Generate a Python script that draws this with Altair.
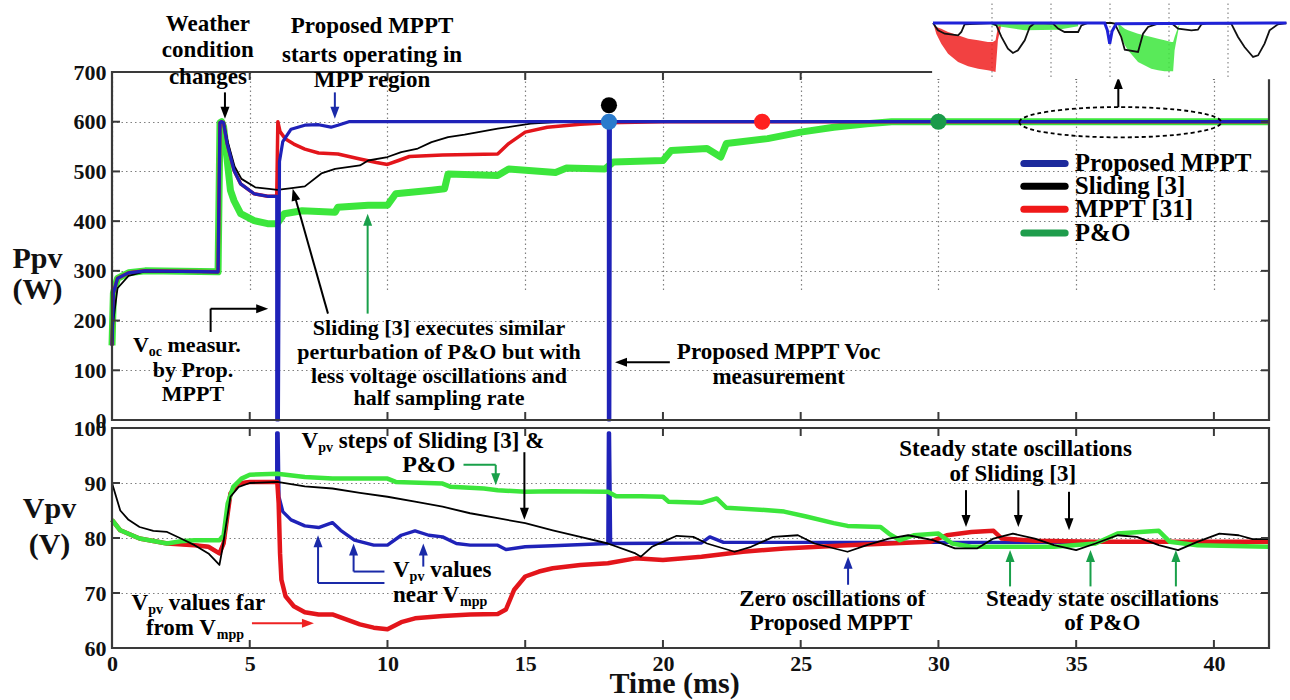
import math
import altair as alt
import pandas as pd

FONT = "Liberation Serif"
PLOT_W, PLOT_H = 1157, 576          # both panels together
TOP_PX = 348                        # height of the Ppv panel
BOT_TOP_PX = 356                    # where the Vpv panel starts
X_MAX = 42.0
PXX = PLOT_W / X_MAX
PXW = TOP_PX / 700.0
PXV = (PLOT_H - BOT_TOP_PX) / 40.0

BLUE, RED, GREEN, BLACK = "#1f22b8", "#e3151b", "#3ce63c", "#000000"
LEG_BLUE, LEG_GREEN = "#1d2a9c", "#1f9d4c"
A_GREEN, A_BLUE, A_RED = "#19a04a", "#1a2aa8", "#ee2222"

# ---------------- Ppv (W) ----------------
blue_p_t = [0, 0.05, 0.2, 0.6, 1.2, 3.85, 3.92, 3.98, 4.05, 4.18, 4.43, 4.67, 5.16, 5.65, 5.98, 5.98, 6.04,
            6.08, 6.2, 6.5, 7.0, 7.5, 7.95, 8.2, 8.6, 18.02, 18.02, 18.07, 18.09, 42]
blue_p_v = [150, 255, 285, 296, 300, 298, 598, 600, 598, 556, 502, 475, 455, 450, 450, 0, 0,
            520, 560, 585, 593, 594, 589, 593, 600, 600, 0, 0, 600, 600]

black_p_t = [0, 0.05, 0.2, 0.6, 1.2, 3.85, 3.92, 3.98, 4.05, 4.2, 4.45, 4.7, 5.2, 5.7, 6.0, 6.45, 7.0, 7.6,
             8.1, 9.0, 9.3, 10.0, 10.5, 11.1, 11.6, 12.2, 12.8, 14.0, 15.2, 16.4, 42]
black_p_v = [150, 200, 265, 290, 299, 297, 598, 600, 598, 560, 510, 485, 468, 465, 463, 466, 470, 496,
             505, 512, 522, 529, 539, 546, 559, 569, 574, 586, 596, 600, 600]

red_p_t = [0, 0.05, 0.2, 0.6, 1.2, 3.85, 3.92, 3.98, 4.05, 4.18, 4.43, 4.67, 5.16, 5.65, 5.98, 6.02, 6.1,
           6.3, 6.6, 7.0, 7.5, 8.2, 9.0, 9.6, 10.0, 10.4, 10.8, 12.0, 14.0, 14.4, 15.0, 15.8, 17.0, 18.0,
           20.0, 42]
red_p_v = [150, 255, 285, 296, 300, 298, 598, 600, 598, 556, 502, 475, 455, 450, 450, 600, 580,
           565, 555, 545, 537, 535, 525, 518, 514, 522, 530, 533, 535, 556, 579, 589, 595, 598,
           600, 600]

green_p_t = [0, 0.05, 0.2, 0.6, 1.2, 3.85, 3.92, 3.98, 4.05, 4.3, 4.43, 4.67, 5.16, 5.65, 6.0, 6.25, 6.9,
             8.1, 8.2, 9.3, 10.0, 10.3, 11.6, 12.07, 12.2, 14.0, 14.4, 16.1, 16.5, 17.9, 18.2, 20.0,
             20.3, 21.6, 22.1, 22.3, 23.8, 25.0, 26.2, 27.4, 28.3, 42]
green_p_v = [150, 255, 285, 296, 300, 298, 598, 600, 590, 462, 441, 415, 401, 395, 395, 415, 421,
             418, 428, 432, 432, 455, 462, 465, 495, 492, 505, 498, 507, 505, 519, 522,
             542, 546, 529, 556, 566, 579, 589, 596, 600, 600]

# ---------------- Vpv (V) ----------------
red_v_t = [0, 0.3, 1, 2, 3, 3.5, 3.9, 4.05, 4.3, 4.6, 5, 6, 6.05, 6.1, 6.15, 6.3, 6.6, 7, 7.5, 8, 8.5, 9,
           9.5, 10, 10.5, 11, 12, 13, 14, 14.3, 14.6, 15, 15.5, 16, 17, 18, 19, 20, 21.4, 22.9, 24.4,
           26.7, 29.7, 30.3, 31.2, 32, 32.3, 33.5, 35.7, 42]
red_v_v = [83.3, 81.4, 79.9, 79.0, 78.7, 78.4, 77.2, 79.0, 88.1, 89.9, 90.2, 90.2, 86.3, 77.2, 72.4, 69.4,
           67.6, 66.5, 66.1, 66.1, 65.2, 64.3, 63.7, 63.4, 64.7, 65.4, 65.8, 66.1, 66.2, 67.0, 70.6, 73.0,
           73.9, 74.5, 75.1, 75.4, 76.3, 76.0, 76.6, 77.5, 78.1, 78.7, 79.3, 80.5, 81.1, 81.3, 79.9,
           79.5, 79.3, 79.3]

blue_v_t = [0, 0.3, 1, 2, 3, 3.5, 3.9, 4.05, 4.3, 4.6, 5, 5.98, 5.98, 6.03, 6.06, 6.2, 6.5, 7, 7.5, 8, 8.3,
            8.8, 9.5, 10, 10.5, 11, 11.5, 12, 12.5, 13, 14, 14.3, 15, 16, 18.0, 18.02, 18.06, 18.1, 21.4,
            21.7, 22.2, 42]
blue_v_v = [83.3, 81.4, 79.9, 79.0, 78.7, 78.4, 77.2, 79.0, 88.1, 89.9, 90.2, 90.2, 99.1, 99.1, 87.5,
            84.8, 83.3, 82.2, 81.9, 82.8, 81.4, 79.6, 78.7, 78.7, 80.5, 81.3, 80.5, 80.2, 79.0, 78.7,
            78.7, 77.9, 78.4, 78.6, 79.0, 99.1, 99.1, 79.0, 79.1, 80.2, 79.2, 79.2]

green_v_t = [0, 0.3, 1, 2, 2.5, 3, 3.9, 4.05, 4.2, 4.4, 4.7, 5, 6, 7, 8, 10, 10.3, 12, 12.3, 13.5, 14, 15,
             16, 18, 18.3, 19.2, 20, 20.2, 21.4, 21.95, 22.3, 23.7, 24.4, 25.2, 26.2, 26.7, 27.9, 28.2,
             28.6, 29.1, 30, 30.5, 31.2, 34.2, 35.7, 36.5, 38, 38.4, 39.4, 42]
green_v_v = [83.3, 81.4, 79.9, 79.0, 79.4, 79.6, 79.6, 80.5, 86.3, 89.3, 90.8, 91.5, 91.7, 91.1, 90.8,
             90.8, 90.2, 89.9, 89.3, 89.0, 88.7, 88.4, 88.5, 88.4, 87.6, 87.6, 87.5, 86.6, 86.4, 87.2,
             85.5, 85.1, 84.8, 83.9, 82.7, 82.2, 82.0, 80.8, 79.6, 80.5, 80.8, 79.0, 78.4, 78.4, 79.0,
             80.8, 81.3, 79.3, 78.7, 78.4]

black_v_t = [0, 0.3, 0.6, 1, 1.5, 2, 2.5, 3, 3.5, 3.9, 4.0, 4.3, 4.6, 5, 6, 7, 8, 9, 10, 11, 12, 13, 14,
             15, 16, 17, 18, 19, 19.2, 19.6, 20, 20.5, 21.1, 21.6, 22.6, 23.2, 24, 24.9, 25.5, 26.7,
             27.4, 28.2, 28.9, 29.8, 30.6, 31.4, 32, 32.7, 33.5, 34.2, 35, 35.7, 36.5, 37.2, 38, 38.7,
             39.4, 40.2, 40.9, 41.4, 42]
black_v_v = [90, 85, 83.3, 82, 81.3, 81.1, 79.9, 78.7, 77.2, 75.1, 77.8, 87.5, 89.3, 90, 90.2, 89.4, 89,
             88.2, 87.5, 86.6, 85.7, 84.5, 83.6, 82.7, 81.4, 80.2, 79.0, 77.2, 76.6, 78.4, 79.3, 80.4,
             80.2, 79.0, 77.5, 78.4, 80.2, 80.5, 79.0, 77.5, 78.7, 79.9, 80.5, 79.6, 78.1, 78.1, 79.9,
             80.8, 79.9, 78.7, 77.8, 79.0, 80.5, 80.2, 78.7, 77.8, 79.3, 80.8, 80.5, 79.8, 79.8]

# ---------------- inset (zoom of the steady state, W) ----------------
in_black_t = [30.0, 30.17, 30.40, 30.85, 30.96, 31.07, 31.98, 32.15, 32.32, 32.54, 32.71, 32.88, 33.11,
              33.28, 33.45, 34.07, 34.24, 34.46, 34.92, 35.03, 35.25, 36.05, 36.16, 36.38, 36.50, 36.95,
              37.12, 37.29, 37.63, 38.08, 38.31, 38.76, 38.98, 39.10, 39.32, 40.11, 40.34, 40.56, 40.85,
              41.02, 41.24, 41.41, 41.69, 41.98]
in_black_v = [600.0, 599.1, 598.69, 598.49, 598.9, 599.84, 600.0, 599.71, 598.29, 596.86, 596.33, 596.65,
              597.88, 599.51, 600.0, 599.92, 599.31, 598.9, 598.9, 599.71, 600.0, 600.0, 599.92, 598.29,
              596.74, 596.45, 598.69, 599.51, 599.92, 600.0, 599.31, 599.1, 599.18, 599.84, 600.0,
              599.92, 598.29, 597.06, 595.84, 596.04, 597.47, 599.1, 599.84, 600.0]
in_red_t = [30.03, 30.11, 30.28, 30.51, 30.85, 31.19, 31.53, 31.86, 32.03, 32.12, 32.2, 32.3]
in_red_hi = [599.92, 599.51, 599.31, 598.9, 598.49, 598.08, 597.88, 597.67, 597.67, 597.9, 599.5, 599.92]
in_red_lo = [599.71, 598.69, 597.47, 596.25, 595.23, 594.69, 594.41, 594.2, 594.08, 594.0, 597.9, 599.51]
in_green_t = [36.27, 36.33, 36.5, 36.61, 36.95, 37.4, 37.63, 37.85, 38.08, 38.14, 38.19, 38.31, 38.36]
in_green_hi = [599.92, 599.8, 599.31, 599.1, 598.69, 598.3, 598.08, 597.9, 597.67, 597.67, 598.3, 599.51, 599.92]
in_green_lo = [599.9, 598.69, 597.3, 596.65, 595.23, 594.41, 594.2, 594.08, 594.08, 594.08, 596.65, 599.0, 599.92]
in_green2_t = [31.98, 33.11, 34.24, 34.92]
in_green2_hi = [600.0, 599.84, 599.84, 599.92]
in_green2_lo = [599.71, 599.1, 599.18, 599.59]
in_blue_t = [30.0, 35.82, 35.91, 35.99, 36.07, 36.21, 41.98]
in_blue_v = [600.0, 600.0, 599.1, 597.47, 598.98, 599.92, 600.0]
in_grid_t = [32, 34, 36, 38, 40]

# markers on the Ppv panel
dot_t = [18.04, 18.04, 23.6, 30.0]
dot_v = [633, 600, 600, 600]
dot_c = ["#000000", "#2b7bcc", "#ff2020", "#1a9a4a"]

# legend
leg_names = ["Proposed MPPT", "Sliding [3]", "MPPT [31]", "P&O"]
leg_colors = [LEG_BLUE, BLACK, "#f01818", LEG_GREEN]
leg_v = [516, 470, 424, 376]

x_ticks = [0, 5, 10, 15, 20, 25, 30, 35, 40]
p_ticks = [0, 100, 200, 300, 400, 500, 600, 700]
v_ticks = [60, 70, 80, 90, 100]

# ---------------- scales / axes ----------------
XS = alt.Scale(domain=[0, X_MAX], nice=False, zero=False)
YS_TOP = alt.Scale(domain=[0, 700], range=[TOP_PX, 0], nice=False, zero=False)
YS_BOT = alt.Scale(domain=[60, 100], range=[PLOT_H, BOT_TOP_PX], nice=False, zero=False)
XS_IN = alt.Scale(domain=[30, 42], range=[821, 1175], nice=False, zero=False)
YS_IN = alt.Scale(domain=[594, 600], range=[0, -49], nice=False, zero=False)

common_axis = dict(grid=True, gridDash=[1.5, 3], gridColor="#808080", gridWidth=1.2, ticks=False, tickSize=0,
                   domain=False, labelFont=FONT, labelFontWeight="bold", labelFontSize=22, labelColor="#111",
                   labelOverlap=False, labelFlush=False, titleFont=FONT, titleFontWeight="bold",
                   titleFontSize=30, titleColor="#111", titleAngle=0, titleAlign="center",
                   titleBaseline="alphabetic")
AX_TOP = alt.Axis(values=p_ticks, orient="left", labelPadding=6, title=["Ppv", "(W)"], titleX=-75,
                  titleY=195, titleLineHeight=31, **common_axis)
AX_BOT = alt.Axis(values=v_ticks, orient="left", labelPadding=6, title=["Vpv", "(V)"], titleX=-63,
                  titleY=445, titleLineHeight=36, **common_axis)
AX_X = alt.Axis(values=x_ticks, orient="bottom", labelPadding=5, title="Time (ms)", titleX=562, titleY=44,
                **common_axis)


def xe(field="t", panel="top"):
    return alt.X(f"{field}:Q", scale=XS, axis=AX_X if panel == "bot" else None)


def ye(field, panel):
    if panel == "top":
        return alt.Y(f"{field}:Q", scale=YS_TOP, axis=AX_TOP)
    return alt.Y(f"{field}:Q", scale=YS_BOT, axis=AX_BOT)


def line_layer(t, v, color, width, panel, cap="butt"):
    df = pd.DataFrame({"t": t, "v": v, "i": list(range(len(t)))})
    return alt.Chart(df).mark_line(color=color, strokeWidth=width, strokeJoin="round", strokeCap=cap).encode(
        x=xe("t", panel), y=ye("v", panel), order="i:Q")


def frame_layer(panel, lo, hi):
    df = pd.DataFrame({"x": [0.0], "x2": [X_MAX], "y": [lo], "y2": [hi]})
    return alt.Chart(df).mark_rect(fillOpacity=0, stroke="#3a3a3a", strokeWidth=2.2).encode(
        x=xe("x", panel), x2="x2:Q", y=ye("y", panel), y2="y2:Q")


def inner_ticks(panel, yvals, lo, hi, ppu):
    rows = []
    tl_x = 8 / PXX
    tl_y = 8 / ppu
    for yv in yvals:
        if lo < yv < hi:
            rows.append((0, tl_x, yv, yv))
            rows.append((X_MAX - tl_x, X_MAX, yv, yv))
    for xv in x_ticks:
        if 0 < xv < X_MAX:
            rows.append((xv, xv, lo, lo + tl_y))
            rows.append((xv, xv, hi - tl_y, hi))
    df = pd.DataFrame(rows, columns=["x", "x2", "y", "y2"])
    return alt.Chart(df).mark_rule(color="#3a3a3a", strokeWidth=2).encode(
        x=xe("x", panel), x2="x2:Q", y=ye("y", panel), y2="y2:Q")


HEAD = "M0,-1L0.75,1L-0.75,1Z"
HEAD_R = 6.0


def arrows_layer(arrows, panel, ppu):
    segs, heads = [], []
    for pts, color in arrows:
        (x1, y1), (x2, y2) = pts[-2], pts[-1]
        dxp, dyp = (x2 - x1) * PXX, -(y2 - y1) * ppu
        L = math.hypot(dxp, dyp)
        ux, uy = dxp / L, dyp / L
        cx = x2 - HEAD_R * ux / PXX
        cy = y2 + HEAD_R * uy / ppu
        ang = math.degrees(math.atan2(ux, -uy)) % 360
        heads.append((cx, cy, ang, color))
        p = list(pts[:-1]) + [(cx, cy)]
        for a, b in zip(p[:-1], p[1:]):
            segs.append((a[0], b[0], a[1], b[1], color))
    sdf = pd.DataFrame(segs, columns=["x", "x2", "y", "y2", "c"])
    hdf = pd.DataFrame(heads, columns=["x", "y", "a", "c"])
    r = alt.Chart(sdf).mark_rule(strokeWidth=2).encode(
        x=xe("x", panel), x2="x2:Q", y=ye("y", panel), y2="y2:Q", color=alt.Color("c:N", scale=None))
    h = alt.Chart(hdf).mark_point(shape=HEAD, filled=True, size=(2 * HEAD_R) ** 2, opacity=1,
                                  strokeWidth=0).encode(
        x=xe("x", panel), y=ye("y", panel), angle=alt.Angle("a:Q", scale=None),
        color=alt.Color("c:N", scale=None))
    return [r, h]


TW = {'a': .5, 'b': .556, 'c': .444, 'd': .556, 'e': .444, 'f': .333, 'g': .5, 'h': .556, 'i': .278,
      'j': .333, 'k': .556, 'l': .278, 'm': .833, 'n': .556, 'o': .5, 'p': .556, 'q': .556, 'r': .444,
      's': .389, 't': .333, 'u': .556, 'v': .5, 'w': .722, 'x': .5, 'y': .5, 'z': .444, 'V': .722, ' ': .25,
      '.': .25}


def tw(s, size):
    return sum(TW.get(ch, 0.6) for ch in s) * size


def pieces(lines, ppu, size):
    """lines: (x0, y, [(text, is_sub)]) left anchored; returns rows x, y, text, size"""
    rows = []
    sub = round(size * 0.62)
    for x0, y, parts in lines:
        off = 0.0
        for txt, is_sub in parts:
            fs = sub if is_sub else size
            lead = len(txt) - len(txt.lstrip(" "))
            off += lead * TW[' '] * fs
            t = txt.strip(" ")
            yy = y - (0.32 * size) / ppu if is_sub else y
            rows.append((x0 + off / PXX, yy, t, fs))
            off += tw(t, fs)
    return pd.DataFrame(rows, columns=["x", "y", "text", "size"])


def text_layer(df, panel, align):
    return alt.Chart(df).mark_text(font=FONT, fontWeight="bold", baseline="middle", align=align,
                                   color="#000").encode(
        x=xe("x", panel), y=ye("y", panel), text="text:N", size=alt.Size("size:Q", scale=None))


# ---------------- top panel ----------------
top_center = pd.DataFrame([
    (3.48, 796, "Weather", 23), (3.48, 744, "condition", 23), (3.48, 689, "changes", 23),
    (9.44, 792, "Proposed MPPT", 23), (9.44, 735, "starts operating in", 23), (9.44, 683, "MPP region", 23),
    (2.94, 99.6, "by Prop.", 22), (2.94, 53.3, "MPPT", 22),
    (11.87, 186, "Sliding [3] executes similar", 22), (11.87, 135.8, "perturbation of P&O but with", 22),
    (11.87, 89.5, "less voltage oscillations and", 22), (11.87, 43.3, "half sampling rate", 22),
    (24.2, 135.8, "Proposed MPPT Voc", 23), (24.2, 85.5, "measurement", 23),
], columns=["x", "y", "text", "size"])
top_left = pieces([(0.76, 150, [("V", False), ("oc", True), (" measur.", False)])], PXW, 22)
legend_text = pd.DataFrame({"x": [34.95] * 4, "y": leg_v, "text": leg_names, "size": [25] * 4})
legend_lines = pd.DataFrame({"x": [33.1] * 4, "x2": [34.6] * 4, "y": leg_v, "c": leg_colors})

top_arrows = [
    ([(4.10, 659), (4.10, 606)], BLACK),
    ([(8.09, 659), (8.09, 606)], A_BLUE),
    ([(7.84, 214), (6.56, 465)], BLACK),
    ([(9.28, 214), (9.28, 415)], A_GREEN),
    ([(3.58, 177), (3.58, 224), (5.67, 224)], BLACK),
    ([(20.25, 116), (18.26, 116)], BLACK),
    ([(36.53, 629), (36.53, 690)], BLACK),
]

ELLIPSE = ("M-1,0C-1,-0.0828,-0.5523,-0.15,0,-0.15C0.5523,-0.15,1,-0.0828,1,0"
           "C1,0.0828,0.5523,0.15,0,0.15C-0.5523,0.15,-1,0.0828,-1,0Z")
ell = alt.Chart(pd.DataFrame({"x": [36.6], "y": [599]})).mark_point(
    shape=ELLIPSE, size=202 ** 2, filled=False, color="#000", strokeWidth=1.8, strokeDash=[4, 3], opacity=1
).encode(x=xe("x", "top"), y=ye("y", "top"))

dots = alt.Chart(pd.DataFrame({"x": dot_t, "y": dot_v, "c": dot_c})).mark_circle(size=260, opacity=1).encode(
    x=xe("x", "top"), y=ye("y", "top"), color=alt.Color("c:N", scale=None))

leg_rules = alt.Chart(legend_lines).mark_rule(strokeWidth=7, strokeCap="round").encode(
    x=xe("x", "top"), x2="x2:Q", y=ye("y", "top"), color=alt.Color("c:N", scale=None))

top = alt.layer(
    line_layer(green_p_t, green_p_v, GREEN, 7, "top"),
    line_layer(red_p_t, red_p_v, RED, 3.5, "top"),
    line_layer(black_p_t, black_p_v, BLACK, 1.8, "top"),
    line_layer(blue_p_t, blue_p_v, BLUE, 3.2, "top"),
    frame_layer("top", 0, 700),
    inner_ticks("top", p_ticks, 0, 700, PXW),
    dots, ell,
    *arrows_layer(top_arrows, "top", PXW),
    text_layer(top_center, "top", "center"),
    text_layer(top_left, "top", "left"),
    leg_rules,
    text_layer(legend_text, "top", "left"),
)

# ---------------- bottom panel ----------------
bot_center = pd.DataFrame([
    (11.5, 93.2, "P&O", 24),
    (32.8, 96.2, "Steady state oscillations", 23), (32.7, 91.7, "of Sliding [3]", 23),
    (26.15, 69.0, "Zero oscillations of", 23), (26.1, 64.6, "Proposed MPPT", 23),
    (35.95, 69.0, "Steady state oscillations", 23), (35.95, 64.6, "of P&O", 23),
], columns=["x", "y", "text", "size"])
bot_left = pieces([
    (6.88, 97.7, [("V", False), ("pv", True), (" steps of Sliding [3] &", False)]),
    (10.2, 74.2, [("V", False), ("pv", True), (" values", False)]),
    (10.2, 69.7, [("near V", False), ("mpp", True)]),
    (0.71, 68.2, [("V", False), ("pv", True), (" values far", False)]),
    (1.23, 63.7, [("from V", False), ("mpp", True)]),
], PXV, 23)

bot_arrows = [
    ([(14.97, 95.6), (14.97, 83.3)], BLACK),
    ([(12.76, 93.3), (13.93, 93.3), (13.93, 89.6)], A_GREEN),
    ([(9.89, 71.8), (7.48, 71.8), (7.48, 80.5)], A_BLUE),
    ([(9.89, 73.9), (8.77, 73.9), (8.77, 79.0)], A_BLUE),
    ([(11.3, 74.8), (11.3, 79.0)], A_BLUE),
    ([(5.08, 64.5), (7.33, 64.5)], A_RED),
    ([(26.72, 71.5), (26.72, 76.6)], A_BLUE),
    ([(32.6, 71.2), (32.6, 77.8)], A_GREEN),
    ([(35.52, 71.2), (35.52, 77.8)], A_GREEN),
    ([(38.62, 71.2), (38.62, 77.8)], A_GREEN),
    ([(31.0, 88.7), (31.0, 82.0)], BLACK),
    ([(32.9, 88.7), (32.9, 82.0)], BLACK),
    ([(34.74, 88.4), (34.74, 81.4)], BLACK),
]

bottom = alt.layer(
    line_layer(blue_v_t, blue_v_v, BLUE, 3.4, "bot"),
    line_layer(red_v_t, red_v_v, RED, 4.5, "bot"),
    line_layer(green_v_t, green_v_v, GREEN, 4.5, "bot"),
    line_layer(black_v_t, black_v_v, BLACK, 1.8, "bot"),
    frame_layer("bot", 60, 100),
    inner_ticks("bot", v_ticks, 60, 100, PXV),
    *arrows_layer(bot_arrows, "bot", PXV),
    text_layer(bot_center, "bot", "center"),
    text_layer(bot_left, "bot", "left"),
)

# ---------------- inset ----------------
def xi(f):
    return alt.X(f"{f}:Q", scale=XS_IN, axis=None)


def yi(f):
    return alt.Y(f"{f}:Q", scale=YS_IN, axis=None)


inset_bg = alt.Chart(pd.DataFrame({"x": [29.97], "x2": [42.8], "y": [593.1], "y2": [602.5]})).mark_rect(
    color="white").encode(x=xi("x"), x2="x2:Q", y=yi("y"), y2="y2:Q")
inset_grid = alt.Chart(pd.DataFrame({"x": in_grid_t, "y": [593.4] * 5, "y2": [602.4] * 5})).mark_rule(
    color="#888", strokeDash=[1.5, 3], strokeWidth=1.2).encode(x=xi("x"), y=yi("y"), y2="y2:Q")


def band(t, hi, lo, color):
    df = pd.DataFrame({"t": t, "hi": hi, "lo": lo})
    return alt.Chart(df).mark_area(color=color, opacity=0.85).encode(x=xi("t"), y=yi("hi"), y2="lo:Q")


def in_line(t, v, color, w):
    df = pd.DataFrame({"t": t, "v": v, "i": list(range(len(t)))})
    return alt.Chart(df).mark_line(color=color, strokeWidth=w).encode(x=xi("t"), y=yi("v"), order="i:Q")


inset = alt.layer(
    inset_bg, inset_grid,
    band(in_red_t, in_red_hi, in_red_lo, "#f02020"),
    band(in_green2_t, in_green2_hi, in_green2_lo, "#3ce63c"),
    band(in_green_t, in_green_hi, in_green_lo, "#3ce63c"),
    in_line(in_black_t, in_black_v, "#111", 1.8),
    in_line(in_blue_t, in_blue_v, "#1f22d8", 3),
)

chart = alt.layer(top, bottom, inset).resolve_scale(x="independent", y="independent").properties(
    width=PLOT_W, height=PLOT_H,
    autosize=alt.AutoSizeParams(type="none"),
    padding={"left": 112, "top": 72, "right": 21, "bottom": 52},
    background="white",
).configure_view(strokeOpacity=0)

chart.save("out.html", embed_options={"renderer": "svg", "actions": False})
